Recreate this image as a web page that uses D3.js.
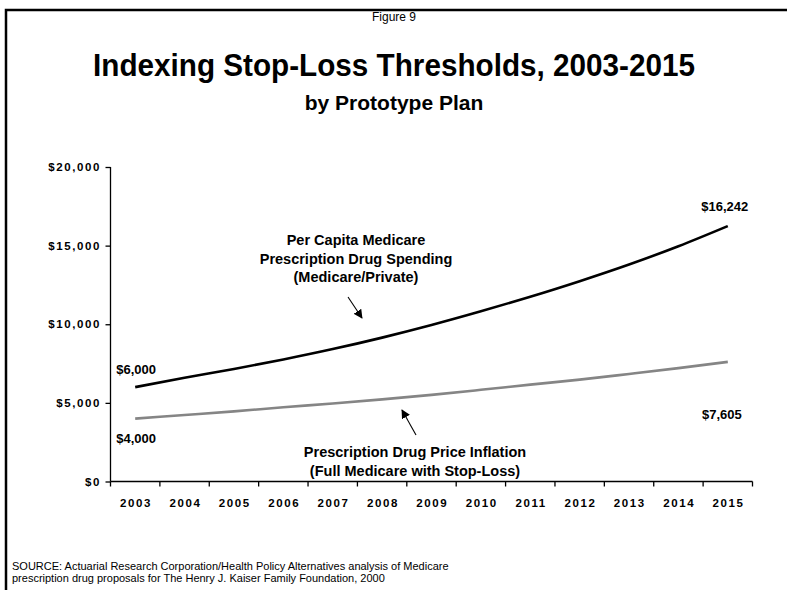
<!DOCTYPE html>
<html>
<head>
<meta charset="utf-8">
<script src="https://cdn.jsdelivr.net/npm/d3@7"></script>
<style>
  html, body { margin: 0; padding: 0; background: #fff; }
  svg { display: block; font-family: "Liberation Sans", Arial, Helvetica, sans-serif; }
</style>
</head>
<body>
<svg id="chart" width="787" height="590"></svg>
<script>
// Stop-loss thresholds by year
const years = ["2003","2004","2005","2006","2007","2008","2009","2010","2011","2012","2013","2014","2015"];
const perCapitaSpending = [6000, 6600, 7150, 7760, 8420, 9150, 9950, 10820, 11750, 12740, 13800, 14960, 16242];
const priceInflation = [4000, 4230, 4460, 4720, 4960, 5220, 5510, 5830, 6160, 6480, 6840, 7210, 7605];
const yTickValues = [0, 5000, 10000, 15000, 20000];

const svg = d3.select("#chart");
const W = 787, H = 590;

// frame (top and left edges visible)
svg.append("path")
  .attr("d", `M6,${H} V10 H${W}`)
  .attr("fill", "none").attr("stroke", "#000").attr("stroke-width", 2.5);

// titles
svg.append("text").attr("x", 394).attr("y", 21).attr("text-anchor", "middle")
  .attr("font-size", 12).text("Figure 9");
svg.append("text").attr("x", 394).attr("y", 76).attr("text-anchor", "middle")
  .attr("font-size", 32).attr("font-weight", "bold")
  .attr("textLength", 602).attr("lengthAdjust", "spacingAndGlyphs")
  .text("Indexing Stop-Loss Thresholds, 2003-2015");
svg.append("text").attr("x", 394).attr("y", 110).attr("text-anchor", "middle")
  .attr("font-size", 21).attr("font-weight", "bold")
  .text("by Prototype Plan");

// scales
const x = d3.scaleBand().domain(years).range([110.5, 752.5]);
const y = d3.scaleLinear().domain([0, 20000]).range([481.5, 167]);
const cx = d => x(d) + x.bandwidth() / 2;

// y axis
const yAxis = svg.append("g").attr("transform", "translate(110.5,0)")
  .call(d3.axisLeft(y).tickValues(yTickValues).tickSize(5).tickPadding(6)
    .tickFormat(d => "$" + d3.format(",")(d)));
yAxis.select(".domain").attr("stroke", "#000").attr("stroke-width", 1.3).attr("d", `M0,${y(20000)}V${y(0)}`);
yAxis.selectAll(".tick line").attr("stroke", "#000").attr("stroke-width", 1.3);
yAxis.selectAll(".tick text").attr("font-family", "Liberation Sans, Arial, sans-serif")
  .attr("font-size", 11.5).attr("font-weight", "bold").attr("fill", "#000")
  .style("letter-spacing", "1.6px").attr("dx", "1.6");

// x axis: labels centred on categories, ticks on band edges
const xAxis = svg.append("g").attr("transform", `translate(0,${y(0)})`)
  .call(d3.axisBottom(x).tickSize(0).tickPadding(17));
xAxis.select(".domain").attr("stroke", "#000").attr("stroke-width", 1.3)
  .attr("d", `M${x.range()[0]},0H${x.range()[1]}`);
xAxis.selectAll(".tick text").attr("font-family", "Liberation Sans, Arial, sans-serif")
  .attr("font-size", 11.5).attr("font-weight", "bold").attr("fill", "#000")
  .style("letter-spacing", "1.6px").attr("dx", "0.8");
const edges = years.map(d => x(d)).concat([x.range()[1]]);
xAxis.selectAll("line.edge").data(edges).join("line").attr("class", "edge")
  .attr("x1", d => d).attr("x2", d => d).attr("y1", 0).attr("y2", 5)
  .attr("stroke", "#000").attr("stroke-width", 1.3);

// lines
const line = d3.line().x((d, i) => cx(years[i])).y(d => y(d)).curve(d3.curveMonotoneX);
svg.append("path").datum(priceInflation).attr("d", line)
  .attr("fill", "none").attr("stroke", "#858585").attr("stroke-width", 2.6);
svg.append("path").datum(perCapitaSpending).attr("d", line)
  .attr("fill", "none").attr("stroke", "#000").attr("stroke-width", 2.6);

// end-point value labels
const fmt = d => "$" + d3.format(",")(d);
const last = years.length - 1;
const valueLabels = [
  { t: fmt(perCapitaSpending[0]), x: cx(years[0]) + 1, y: y(perCapitaSpending[0]) - 13 },
  { t: fmt(priceInflation[0]), x: cx(years[0]) + 1, y: y(priceInflation[0]) + 24 },
  { t: fmt(perCapitaSpending[last]), x: cx(years[last]) - 3, y: y(perCapitaSpending[last]) - 15 },
  { t: fmt(priceInflation[last]), x: cx(years[last]) - 6, y: y(priceInflation[last]) + 57 }
];
svg.selectAll("text.val").data(valueLabels).join("text").attr("class", "val")
  .attr("x", d => d.x).attr("y", d => d.y).attr("text-anchor", "middle")
  .attr("font-size", 13).attr("font-weight", "bold").text(d => d.t);

// annotations
function block(lines, xc, y0, lh) {
  const t = svg.append("text").attr("text-anchor", "middle").attr("font-size", 14.5).attr("font-weight", "bold");
  lines.forEach((s, i) => t.append("tspan").attr("x", xc).attr("y", y0 + i * lh).text(s));
}
block(["Per Capita Medicare", "Prescription Drug Spending", "(Medicare/Private)"], 356, 245, 18.5);
block(["Prescription Drug Price Inflation", "(Full Medicare with Stop-Loss)"], 415, 457, 18.5);

const defs = svg.append("defs");
defs.append("marker").attr("id", "ah").attr("viewBox", "0 0 10 10").attr("refX", 9).attr("refY", 5)
  .attr("markerWidth", 9).attr("markerHeight", 9).attr("orient", "auto").attr("markerUnits", "userSpaceOnUse")
  .append("path").attr("d", "M0,0L10,5L0,10z").attr("fill", "#000");
svg.append("line").attr("x1", 348).attr("y1", 297).attr("x2", 362).attr("y2", 318)
  .attr("stroke", "#000").attr("stroke-width", 1.1).attr("marker-end", "url(#ah)");
svg.append("line").attr("x1", 416).attr("y1", 435).attr("x2", 402).attr("y2", 410)
  .attr("stroke", "#000").attr("stroke-width", 1.1).attr("marker-end", "url(#ah)");

// source note
const src = svg.append("text").attr("font-size", 11).attr("fill", "#000");
src.append("tspan").attr("x", 12).attr("y", 570)
  .text("SOURCE: Actuarial Research Corporation/Health Policy Alternatives analysis of Medicare");
src.append("tspan").attr("x", 12).attr("y", 582)
  .text("prescription drug proposals for The Henry J. Kaiser Family Foundation, 2000");
</script>
</body>
</html>
